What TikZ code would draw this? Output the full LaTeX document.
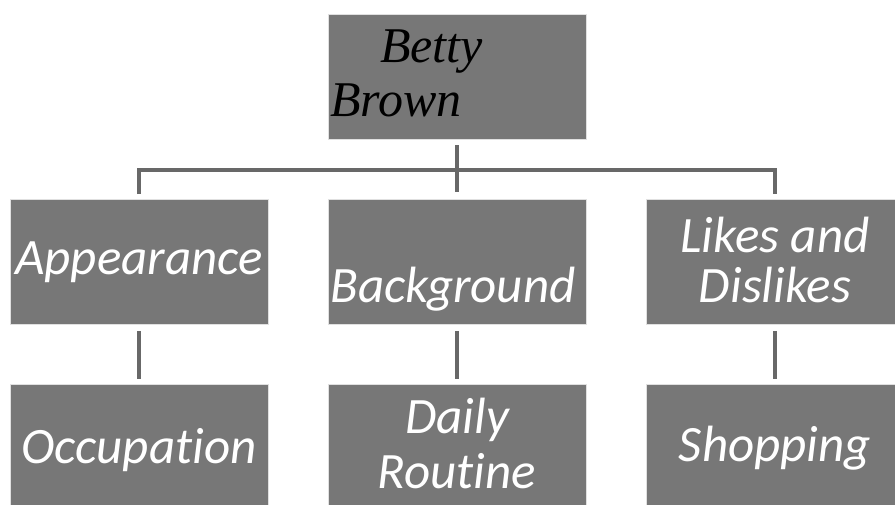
\documentclass[tikz,border=0pt]{standalone}
\usepackage{fontspec}
\setmainfont[Ligatures=NoCommon]{Carlito}
\newfontfamily\serifit{Liberation Serif}
\definecolor{boxgray}{HTML}{777777}
\definecolor{linegray}{HTML}{686868}
\begin{document}
\begin{tikzpicture}[x=1pt,y=-1pt,
  box/.style={rectangle,fill=boxgray,draw=black!12,line width=0.6pt,inner sep=0pt,minimum width=258pt,minimum height=125pt},
  lbl/.style={anchor=base,text=white,font=\fontsize{51}{52}\selectfont\itshape,inner sep=0pt},
  toplbl/.style={anchor=base west,text=black,font=\fontsize{50}{52}\selectfont\serifit\itshape,inner sep=0pt},
  conn/.style={draw=linegray,line width=4pt}]
\useasboundingbox (0,0) rectangle (895,505);
\begin{scope}
\clip (0,0) rectangle (895,505);
% boxes
\node[box] (top) at (457,76.5) {};
\node[box] (a) at (139,262) {};
\node[box] (b) at (457,262) {};
\node[box] (c) at (775,262) {};
\node[box] (d) at (139,447) {};
\node[box] (e) at (457,447) {};
\node[box] (f) at (775,447) {};
\end{scope}
\coordinate (hub) at (457,170);
% labels
\node[toplbl] (t1) at (380,63) {Betty};
\node[toplbl] (t2) at (330,117) {Brown};
\node[lbl] (la) at (139,275) {Appearance};
\node[lbl] (lb) at (453,302) {Background};
\node[lbl] (lc1) at (775,253) {Likes and};
\node[lbl] (lc2) at (775,302) {Dislikes};
\node[lbl] (ld) at (139,463) {Occupation};
\node[lbl] (le1) at (457,433) {Daily};
\node[lbl] (le2) at (457,488) {Routine};
\node[lbl] (lf) at (775,461) {Shopping};
% connectors
\draw[conn] ([yshift=-6pt]top.south) -- ([yshift=7pt]b.north);
\draw[conn] ([yshift=5pt]a.north) -- (a.north |- hub) -- (c.north |- hub) -- ([yshift=5pt]c.north);
\draw[conn] ([yshift=-6pt]a.south) -- ([yshift=5pt]d.north);
\draw[conn] ([yshift=-6pt]b.south) -- ([yshift=5pt]e.north);
\draw[conn] ([yshift=-6pt]c.south) -- ([yshift=5pt]f.north);
\end{tikzpicture}
\end{document}
